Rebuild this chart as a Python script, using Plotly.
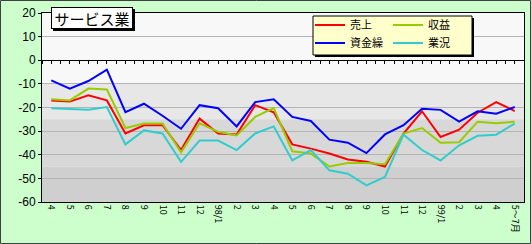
import plotly.graph_objects as go

# ---- data ----
categories = ["4", "5", "6", "7", "8", "9", "10", "11", "12", "98/1", "2", "3", "4",
              "5", "6", "7", "8", "9", "10", "11", "12", "99/1", "2", "3", "4", "5～7月"]
uriage = [-17, -17.5, -14.8, -17, -31, -27.5, -27.5, -38, -24.7, -31, -31.4, -19, -22,
          -35.6, -37.4, -39.5, -42, -43, -45, -31, -21.6, -32.5, -29.4, -22.2, -17.7, -21.5]
shueki = [-16.5, -17, -12, -12.4, -28.7, -26.8, -26.8, -39, -26.7, -30.3, -31.8, -24, -20.3,
          -38.5, -39.5, -45, -43.5, -43.5, -44, -31, -28.7, -34.9, -34.7, -26, -26.7, -26]
shikinguri = [-8.5, -12, -8.8, -4, -22, -18.4, -23.5, -29, -19, -20.3, -28, -17.7, -16.5,
              -24, -25.7, -33.6, -34.9, -39.3, -31.4, -27.5, -20.5, -21, -26, -21.6, -22.6, -19.8]
gyokyo = [-20.3, -20.7, -21, -19.8, -35.6, -29.7, -31, -43, -34, -34, -38, -31, -28,
          -42.4, -38, -46.6, -48, -53, -49.4, -31.5, -38, -42.4, -36, -32, -31.5, -26.8]
y_ticks = [20, 10, 0, -10, -20, -30, -40, -50, -60]
bands = [(20, -10, "#f8f8f8"), (-10, -25, "#e7e7e7"), (-25, -45, "#d8d8d8"), (-45, -60, "#cfcfcf")]

W, H = 531, 244
L, R, T, B = 42, 7, 13, 42
PW, PH = W - L - R, H - T - B


def px(x):
    return (x - L) / PW


def py(y):
    return (H - B - y) / PH


idx = list(range(len(categories)))
JP = "Noto Sans CJK JP"

fig = go.Figure()
# name, values, colour, legend id, legend x (px), legend row centre (px)
series = [
    ("売上", uriage, "#ff0000", "legend", 310, 25),
    ("収益", shueki, "#99cc00", "legend2", 388, 25),
    ("資金繰", shikinguri, "#0000ff", "legend3", 310, 43),
    ("業況", gyokyo, "#33cccc", "legend4", 388, 43),
]
for name, vals, col, lg, _, _ in series:
    fig.add_trace(go.Scatter(x=idx, y=vals, mode="lines", name=name, showlegend=True,
                             line=dict(color=col, width=2), legend=lg))
# dummy trace for the zero-line tick axis
fig.add_trace(go.Scatter(x=[], y=[], xaxis="x2", showlegend=False))

shapes = []
for y0, y1, c in bands:
    shapes.append(dict(type="rect", xref="paper", yref="y", x0=0, x1=1, y0=y0, y1=y1,
                       fillcolor=c, line=dict(width=0), layer="below"))
# title box shadow
shapes.append(dict(type="rect", xref="paper", yref="paper", x0=px(53), x1=px(135),
                   y0=py(31), y1=py(9), fillcolor="black", line=dict(width=0)))
# legend box shadow and box
shapes.append(dict(type="rect", xref="paper", yref="paper", x0=px(315), x1=px(474),
                   y0=py(57), y1=py(18), fillcolor="black", line=dict(width=0)))
shapes.append(dict(type="rect", xref="paper", yref="paper", x0=px(313), x1=px(472),
                   y0=py(55), y1=py(16), fillcolor="#ffffcc", line=dict(color="black", width=1)))
# outer frame
shapes.append(dict(type="rect", xref="paper", yref="paper", x0=px(0.5), x1=px(530.5),
                   y0=py(243.5), y1=py(0.5), line=dict(color="#404040", width=1)))

legends = {}
for name, vals, col, lg, lx, ly in series:
    legends[lg] = dict(x=px(lx), y=py(ly), xanchor="left", yanchor="middle",
                       bgcolor="rgba(0,0,0,0)", borderwidth=0, itemwidth=30,
                       tracegroupgap=0, font=dict(family=JP, size=11, color="black"))

fig.update_layout(
    width=W, height=H, autosize=False, showlegend=True,
    margin=dict(l=L, r=R, t=T, b=B, pad=0),
    paper_bgcolor="#ccffcc", plot_bgcolor="#f8f8f8",
    shapes=shapes,
    xaxis=dict(type="linear", range=[-0.5, len(categories) - 0.5], tickmode="array",
               tickvals=idx, ticktext=categories, tickangle=90, ticks="",
               showgrid=False, zeroline=False, showline=True, mirror=True,
               linecolor="black", linewidth=1,
               tickfont=dict(family=JP, size=9, color="black")),
    xaxis2=dict(type="linear", range=[-0.5, len(categories) - 0.5], overlaying="x",
                anchor="free", position=0.75, tickmode="linear", tick0=-0.5, dtick=0.5,
                ticks="outside", ticklen=3, tickcolor="black", showticklabels=False,
                showgrid=False, zeroline=False, showline=True, linecolor="black", linewidth=1),
    yaxis=dict(range=[-60, 20], tickmode="array", tickvals=y_ticks,
               ticktext=[str(v) for v in y_ticks],
               showgrid=True, gridcolor="#b4b4b4", gridwidth=1, zeroline=False,
               showline=True, mirror=True, linecolor="black", linewidth=1,
               ticks="outside", ticklen=3, tickcolor="black",
               tickfont=dict(family="Liberation Sans", size=12, color="black")),
    annotations=[dict(text="サービス業", xref="paper", yref="paper", x=px(51), y=py(7),
                      xanchor="left", yanchor="top", showarrow=False,
                      bgcolor="white", bordercolor="black", borderwidth=1, borderpad=1,
                      width=78, height=18,
                      font=dict(family=JP, size=15, color="black"))],
    **legends,
)

fig.write_html("out.html")
